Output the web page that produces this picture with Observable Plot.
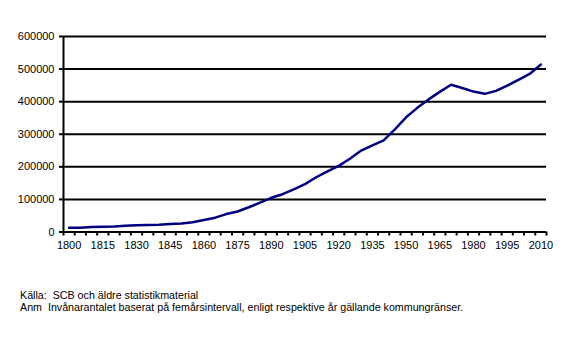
<!DOCTYPE html>
<html>
<head>
<meta charset="utf-8">
<script src="https://cdn.jsdelivr.net/npm/d3@7"></script>
<script src="https://cdn.jsdelivr.net/npm/@observablehq/plot@0.6"></script>
<style>
  html, body { margin: 0; padding: 0; background: #fff; }
  #wrap { position: relative; width: 577px; height: 351px; }
  .note { position: absolute; left: 20px; font-family: "Liberation Sans", Arial, sans-serif; font-size: 10.7px; color: #000; white-space: pre; line-height: 12px; }
</style>
</head>
<body>
<div id="wrap">
  <div id="chart"></div>
  <div class="note" id="n1" style="top:289px"></div>
  <div class="note" id="n2" style="top:301px"></div>
</div>
<script>
const years = [1800,1805,1810,1815,1820,1825,1830,1835,1840,1845,1850,1855,1860,1865,1870,1875,1880,1885,1890,1895,1900,1905,1910,1915,1920,1925,1930,1935,1940,1945,1950,1955,1960,1965,1970,1975,1980,1985,1990,1995,2000,2005,2010];
const population = [12800,13000,15700,16000,16700,19000,21000,21500,22500,24500,26000,30000,37000,44000,55000,63000,76000,90000,105000,116000,131000,147000,168000,186000,203000,225000,250000,266000,281000,315000,352000,381000,407000,430000,452000,442000,431000,424000,433000,449000,467000,485000,514000];
const yTicks = [0,100000,200000,300000,400000,500000,600000];
const xLabels = [1800,1815,1830,1845,1860,1875,1890,1905,1920,1935,1950,1965,1980,1995,2010];
const sourceText = "Källa:  SCB och äldre statistikmaterial";
const noteText = "Anm  Invånarantalet baserat på femårsintervall, enligt respektive år gällande kommungränser.";

const data = years.map((y, i) => ({year: y, pop: population[i]}));
const boundaries = d3.range(0, years.length + 1).map(i => years[0] - 2.5 + 5 * i);
const font = "Liberation Sans, Arial, sans-serif";

const chart = Plot.plot({
  width: 577,
  height: 260,
  marginLeft: 63,
  marginRight: 31,
  marginTop: 36,
  marginBottom: 28.5,
  style: {fontFamily: font, fontSize: "11px", color: "#000", background: "#fff"},
  x: {type: "linear", domain: [boundaries[0], boundaries[boundaries.length - 1]]},
  y: {domain: [0, 600000]},
  marks: [
    Plot.ruleY(yTicks, {stroke: "#000", strokeWidth: 2}),
    Plot.ruleX([boundaries[0]], {y1: 0, y2: 600000, stroke: "#000", strokeWidth: 2}),
    Plot.axisY({ticks: yTicks, tickSize: 4, tickPadding: 5, tickFormat: d => String(d), label: null, strokeWidth: 2, fontSize: 11}),
    Plot.axisX({ticks: boundaries, tickSize: 4, tickFormat: () => "", label: null, strokeWidth: 2}),
    Plot.axisX({ticks: xLabels, tickSize: 0, tickPadding: 9, tickFormat: d => String(d), label: null, fontSize: 11}),
    Plot.line(data, {x: "year", y: "pop", stroke: "#000080", strokeWidth: 2.5})
  ]
});
document.getElementById("chart").appendChild(chart);
document.getElementById("n1").textContent = sourceText;
document.getElementById("n2").textContent = noteText;
</script>
</body>
</html>
